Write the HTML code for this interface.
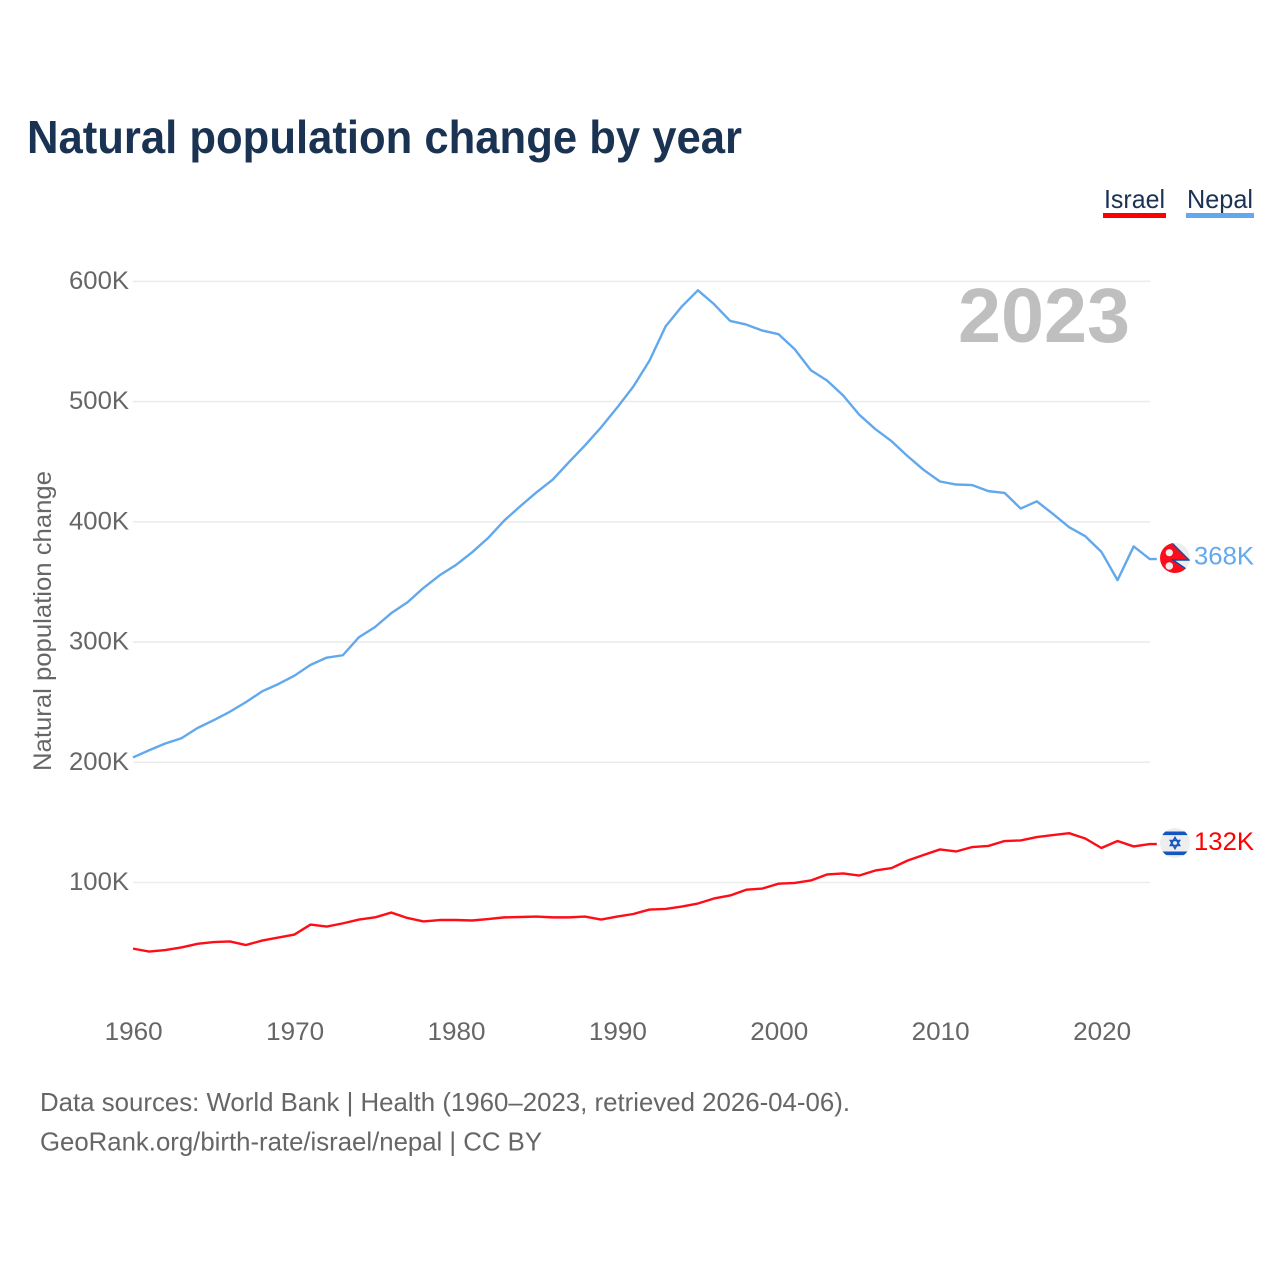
<!DOCTYPE html>
<html lang="en">
<head>
<meta charset="utf-8">
<title>Natural population change by year</title>
<style>
html,body{margin:0;padding:0;background:#fff;}
svg{display:block;font-family:"Liberation Sans",sans-serif;}
</style>
</head>
<body>
<svg id="chart" width="1280" height="1280" viewBox="0 0 1280 1280" xmlns="http://www.w3.org/2000/svg">
  <defs>
    <clipPath id="nepal-clip"><circle cx="1175" cy="558" r="15"/></clipPath>
    <clipPath id="israel-clip"><circle cx="1175" cy="843" r="15"/></clipPath>
  </defs>
  <text x="27" y="153" font-size="46" font-weight="700" fill="#1a3353" textLength="715" lengthAdjust="spacingAndGlyphs">Natural population change by year</text>

  <g>
    <text x="1104" y="208" font-size="26" fill="#1a3353" textLength="61" lengthAdjust="spacingAndGlyphs">Israel</text>
    <rect x="1103" y="213" width="63" height="5" fill="#ff0000"/>
  </g>
  <g>
    <text x="1187" y="208" font-size="26" fill="#1a3353" textLength="66" lengthAdjust="spacingAndGlyphs">Nepal</text>
    <rect x="1186" y="213" width="68" height="5" fill="#62a8ec"/>
  </g>

  <g id="grid"></g>
  <g id="y-ticks"></g>
  <g id="x-ticks"></g>

  <text transform="translate(51,771) rotate(-90)" font-size="25" fill="#666666" textLength="300" lengthAdjust="spacingAndGlyphs">Natural population change</text>

  <text x="1130" y="342" text-anchor="end" font-size="77" font-weight="700" fill="#bfbfbf" textLength="172" lengthAdjust="spacingAndGlyphs">2023</text>

  <g id="series"></g>

  <g id="flag-nepal" clip-path="url(#nepal-clip)">
    <rect x="1159" y="542" width="32" height="32" fill="#eeeeee"/>
    <polygon points="1159,530 1189,560 1173,560 1189,571 1189,580 1155,580 1155,530" fill="#fb0d1b" stroke="#0b4fa8" stroke-width="1.4"/>
    <rect x="1155" y="574" width="36" height="2" fill="#eeeeee"/>
    <circle cx="1169.3" cy="552.7" r="3.6" fill="#eeeeee"/>
    <circle cx="1169.3" cy="566" r="3.8" fill="#eeeeee"/>
  </g>
  <g id="flag-israel" clip-path="url(#israel-clip)">
    <rect x="1159" y="827" width="32" height="32" fill="#eeeeee"/>
    <rect x="1162.5" y="831.5" width="25" height="3.6" fill="#1557c0"/>
    <rect x="1162.5" y="851.5" width="25" height="3.6" fill="#1557c0"/>
    <polygon points="1175,837.5 1179.6,845.5 1170.4,845.5" fill="none" stroke="#1557c0" stroke-width="1.6"/>
    <polygon points="1175,848.5 1179.6,840.5 1170.4,840.5" fill="none" stroke="#1557c0" stroke-width="1.6"/>
  </g>

  <text x="1254" y="564.5" text-anchor="end" font-size="25" fill="#62a8ec" textLength="60" lengthAdjust="spacingAndGlyphs">368K</text>
  <text x="1254" y="850" text-anchor="end" font-size="25" fill="#ff0000" textLength="60" lengthAdjust="spacingAndGlyphs">132K</text>

  <text x="40" y="1111" font-size="26" fill="#666666" textLength="810" lengthAdjust="spacingAndGlyphs">Data sources: World Bank | Health (1960–2023, retrieved 2026-04-06).</text>
  <text x="40" y="1150.5" font-size="26" fill="#666666" textLength="502" lengthAdjust="spacingAndGlyphs">GeoRank.org/birth-rate/israel/nepal | CC BY</text>
</svg>

<script>
const startYear = 1960;
const xTickYears = [1960, 1970, 1980, 1990, 2000, 2010, 2020];
const yTickValues = [100, 200, 300, 400, 500, 600];
const nepalValues = [204,210,215.6,220,228.5,235,242,250,259,265,272,281,287,289,304,312.5,324,333,345,355.5,364,374.5,386.5,401,413,424.5,435,449.5,463.5,478.5,495,512.5,534,562.5,579,592.5,581,567,564,559,556,543.5,526,517.5,505,489,477,467,454.5,443,433.5,431,430.5,425.5,424,411,417,406.5,395.5,388,375,351.5,379.5,369];
const israelValues = [45,42.6,43.8,46,49,50.5,51,48,51.7,54.2,56.7,65,63.4,66,69.2,71,75,70.5,67.6,68.8,68.8,68.4,69.6,71,71.3,71.7,71,71,71.7,69.2,71.7,73.8,77.5,78,80,82.5,86.7,89.2,94,95,99,99.6,101.7,106.7,107.5,105.8,110,112,118.3,123,127.5,125.8,129.5,130.4,134.5,135,137.8,139.5,141,136.6,128.7,134.5,130,132];

const SVG_NS = 'http://www.w3.org/2000/svg';
const xScale = function (year) { return 133 + (year - 1960) * 16.14; };
const yScale = function (value) { return 882.5 - (value - 100) * 1.2024; };

function make(tag, parentId) {
  const el = document.createElementNS(SVG_NS, tag);
  document.getElementById(parentId).appendChild(el);
  return el;
}

yTickValues.forEach(function (value) {
  const line = make('line', 'grid');
  
  
  line.setAttribute('x1', 133);
  line.setAttribute('x2', 1150);
  line.setAttribute('y1', yScale(value));
  line.setAttribute('y2', yScale(value));
  line.setAttribute('stroke', '#ececec');
  line.setAttribute('stroke-width', '1.6');

  const label = make('text', 'y-ticks');
  
  
  label.setAttribute('x', 129);
  label.setAttribute('y', yScale(value) + 7.5);
  label.setAttribute('text-anchor', 'end');
  label.setAttribute('font-size', '25');
  label.setAttribute('fill', '#666666');
  label.setAttribute('textLength', '60');
  label.setAttribute('lengthAdjust', 'spacingAndGlyphs');
  label.textContent = value + 'K';
});

xTickYears.forEach(function (year) {
  const label = make('text', 'x-ticks');
  
  
  label.setAttribute('x', xScale(year) + 0.7);
  label.setAttribute('y', 1040);
  label.setAttribute('text-anchor', 'middle');
  label.setAttribute('font-size', '25');
  label.setAttribute('fill', '#666666');
  label.setAttribute('textLength', '58');
  label.setAttribute('lengthAdjust', 'spacingAndGlyphs');
  label.textContent = year;
});

function pathFor(values) {
  const pts = values.map(function (v, i) {
    return xScale(startYear + i).toFixed(2) + ',' + yScale(v).toFixed(2);
  });
  const last = values[values.length - 1];
  pts.push((xScale(startYear + values.length - 1) + 7).toFixed(2) + ',' + yScale(last).toFixed(2));
  return 'M' + pts.join('L');
}

const nepalLine = make('path', 'series');


nepalLine.setAttribute('d', pathFor(nepalValues));
nepalLine.setAttribute('fill', 'none');
nepalLine.setAttribute('stroke', '#62a8ec');
nepalLine.setAttribute('stroke-width', '2.4');
nepalLine.setAttribute('stroke-linejoin', 'round');

const israelLine = make('path', 'series');


israelLine.setAttribute('d', pathFor(israelValues));
israelLine.setAttribute('fill', 'none');
israelLine.setAttribute('stroke', '#ff0d17');
israelLine.setAttribute('stroke-width', '2.4');
israelLine.setAttribute('stroke-linejoin', 'round');
</script>
</body>
</html>
